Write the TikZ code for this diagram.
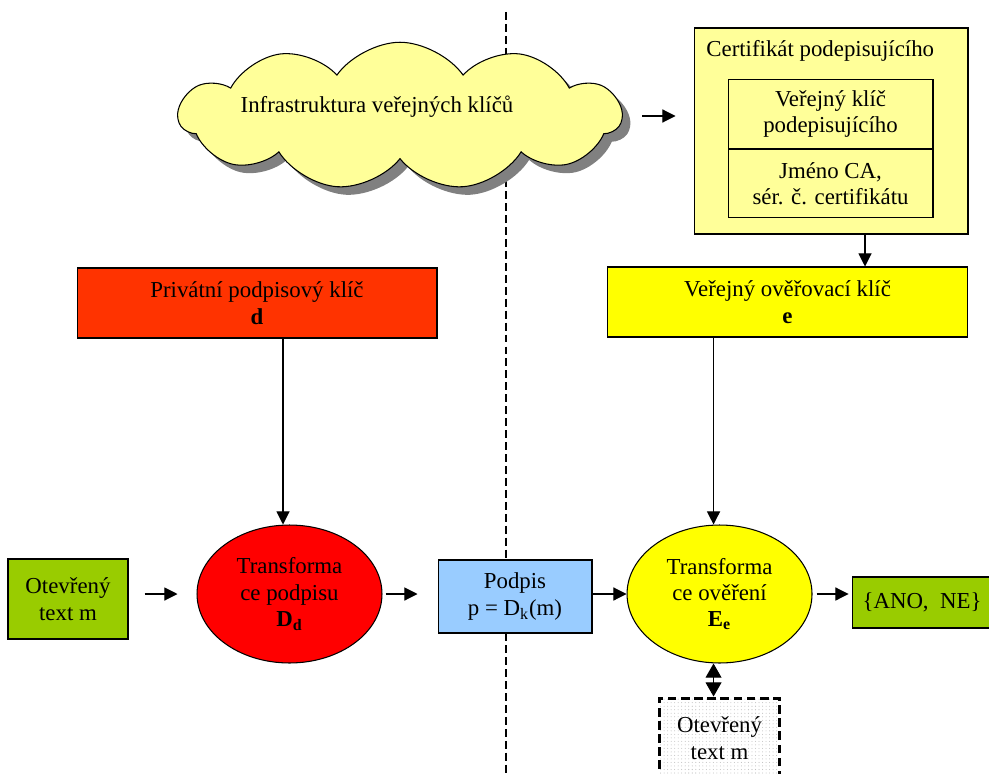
\documentclass[tikz,border=0pt]{standalone}
\usepackage{fontspec}
\setmainfont{Liberation Serif}
\usetikzlibrary{shapes.geometric, shapes.symbols, arrows.meta, positioning, shadows, patterns.meta}

\definecolor{paleyellow}{HTML}{FFFF99}
\definecolor{brightyellow}{HTML}{FFFF00}
\definecolor{orangered}{HTML}{FF3300}
\definecolor{signred}{HTML}{FF0000}
\definecolor{leafgreen}{HTML}{99CC00}
\definecolor{skyblue}{HTML}{99CCFF}

\begin{document}
\begin{tikzpicture}[
            x=0.02cm, y=-0.02cm,
            font=\fontsize{13}{15}\selectfont,
            every node/.append style={line width=0.6pt},
            keybox/.style={draw, rectangle, align=center, inner sep=0pt, minimum width=7.2cm, minimum height=1.4cm},
            transform/.style={draw, ellipse, align=center, inner sep=0pt, minimum width=3.7cm, minimum height=2.76cm},
            textbox/.style={draw, rectangle, align=center, inner sep=0pt, minimum width=2.4cm, minimum height=1.6cm},
            certpart/.style={draw, rectangle, align=center, inner sep=0pt, fill=paleyellow, minimum width=4.1cm, minimum height=1.37cm},
            arrow1/.style={-{Triangle[length=7.5pt, width=7.5pt]}, line width=0.6pt},
            arrow2/.style={{Triangle[length=8pt, width=9pt]}-{Triangle[length=8pt, width=9pt]}, line width=0.6pt},
            divider/.style={dash pattern=on 4.5pt off 2.3pt, line width=0.6pt},
        ]
            \useasboundingbox (0,0) rectangle (989,773);

            % Divider
            \coordinate (divTop) at (506,12);
            \coordinate (divBottom) at (506,773);
            \draw[divider] (divTop) -- (divBottom);

            % Nodes
            \node[cloud, cloud puffs=11, cloud puff arc=110, cloud ignores aspect, draw, fill=paleyellow,
                  minimum width=8.85cm, minimum height=2.95cm,
                  drop shadow={shadow xshift=0.16cm, shadow yshift=-0.16cm, fill=gray, opacity=1},
                  label={[xshift=-0.46cm, yshift=0.18cm]center:Infrastruktura veřejných klíčů}] (pki) at (400,116) {};
            \node[draw, rectangle, fill=paleyellow, minimum width=5.48cm, minimum height=4.12cm] (cert) at (831,131) {};
            \node[anchor=west] (certTitle) at ([xshift=0.13cm, yshift=-0.46cm]cert.north west) {Certifikát podepisujícího};
            \node[certpart] (certKey) at (830.5,114) {Veřejný klíč\\podepisujícího};
            \node[certpart, below=0pt of certKey] (certCA) {Jméno CA,\\sér. č. certifikátu};
            \node[keybox, fill=orangered] (privKey) at (257,303) {Privátní podpisový klíč\\\textbf{d}};
            \node[keybox, fill=brightyellow] (pubKey) at (787.5,302) {Veřejný ověřovací klíč\\\textbf{e}};
            \node[transform, fill=signred] (sign) at (289.5,594) {Transforma\\ce podpisu\\\textbf{D\textsubscript{d}}};
            \node[textbox, fill=leafgreen, left=1.36cm of sign, yshift=-0.1cm] (plain) {Otevřený\\text m};
            \node[draw, rectangle, align=center, inner sep=0pt, fill=skyblue, minimum width=3.08cm, minimum height=1.46cm,
                  right=1.1cm of sign, yshift=-0.05cm] (signature) {Podpis\\p = D\textsubscript{k}(m)};
            \node[transform, fill=brightyellow, right=0.68cm of signature, yshift=0.05cm] (verify) {Transforma\\ce ověření\\\textbf{E\textsubscript{e}}};
            \node[textbox, fill=leafgreen, minimum width=2.8cm, minimum height=1.02cm, right=0.78cm of verify, yshift=-0.17cm] (result) {\{ANO, \ NE\}};
            \node[textbox, line width=2pt, dash pattern=on 5pt off 2.5pt, pattern={Dots[distance=2pt, radius=0.3pt]}, pattern color=gray!50,
                  below=0.66cm of verify] (plainCheck) {Otevřený\\text m};

            % Arrows
            \draw[arrow1, shorten <=0.38cm, shorten >=0.36cm] (pki.east) -- (pki.east -| cert.west);
            \draw[arrow1] ([xshift=0.68cm]cert.south) -- ([xshift=0.68cm]cert.south |- pubKey.north);
            \draw[arrow1] ([xshift=-0.13cm]sign.north |- privKey.south) -- ([xshift=-0.13cm]sign.north);
            \draw[arrow1] ([xshift=-0.12cm]verify.north |- pubKey.south) -- ([xshift=-0.12cm]verify.north);
            \draw[arrow1, shorten <=0.32cm, shorten >=0.38cm] (plain.east |- sign) -- (sign);
            \draw[arrow1, shorten <=0.06cm, shorten >=0.4cm] (sign) -- (sign -| signature.west);
            \draw[arrow1] (signature.east |- verify) -- (verify);
            \draw[arrow1, shorten <=0.08cm, shorten >=0.06cm] (verify) -- (verify -| result.west);
            \draw[arrow2] ([xshift=-0.12cm]verify.south) -- ([xshift=-0.12cm]verify.south |- plainCheck.north);

        \end{tikzpicture}
\end{document}
